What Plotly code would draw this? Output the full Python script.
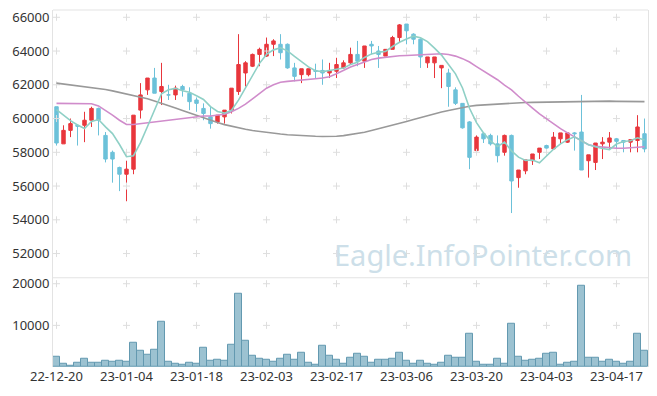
import plotly.graph_objects as go
from plotly.subplots import make_subplots

dates = [
    "22-12-20", "22-12-21", "22-12-22", "22-12-23", "22-12-26", "22-12-27", "22-12-28", "22-12-29",
    "23-01-02", "23-01-03", "23-01-04", "23-01-05", "23-01-06", "23-01-09", "23-01-10", "23-01-11",
    "23-01-12", "23-01-13", "23-01-16", "23-01-17", "23-01-18", "23-01-19", "23-01-20", "23-01-25",
    "23-01-26", "23-01-27", "23-01-30", "23-01-31", "23-02-01", "23-02-02", "23-02-03", "23-02-06",
    "23-02-07", "23-02-08", "23-02-09", "23-02-10", "23-02-13", "23-02-14", "23-02-15", "23-02-16",
    "23-02-17", "23-02-20", "23-02-21", "23-02-22", "23-02-23", "23-02-24", "23-02-27", "23-02-28",
    "23-03-02", "23-03-03", "23-03-06", "23-03-07", "23-03-08", "23-03-09", "23-03-10", "23-03-13",
    "23-03-14", "23-03-15", "23-03-16", "23-03-17", "23-03-20", "23-03-21", "23-03-22", "23-03-23",
    "23-03-24", "23-03-27", "23-03-28", "23-03-29", "23-03-30", "23-03-31", "23-04-03", "23-04-04",
    "23-04-05", "23-04-06", "23-04-07", "23-04-10", "23-04-11", "23-04-12", "23-04-13", "23-04-14",
    "23-04-17", "23-04-18", "23-04-19", "23-04-20", "23-04-21",
]

open_ = [
    60700, 58500, 59300, 59600, 59600, 59900, 60600, 59000, 58000, 57100,
    56700, 57000, 60500, 61700, 62400, 61600, 61400, 61400, 61900, 61500,
    61100, 60600, 60100, 59800, 60100, 60500, 61600, 62700, 63100, 63800,
    63700, 64400, 64400, 64400, 63000, 62600, 62600, 62850, 62850, 62700,
    62800, 63000, 63300, 63800, 63400, 64400, 64000, 63700, 64100, 64800,
    65600, 65000, 64700, 63300, 63300, 63000, 62700, 61700, 60900, 59800,
    58100, 59100, 59000, 58500, 58000, 59000, 56500, 56900, 57500, 58000,
    58400, 58200, 58800, 58600, 59150, 59200, 57500, 57400, 58500, 58600,
    58800, 58700, 58600, 58700, 59100,
]
high = [
    60700, 59600, 60000, 59650, 60400, 60700, 60650, 59200, 58100, 57150,
    57500, 60200, 62100, 62400, 63000, 63300, 62000, 61950, 62000, 61850,
    61250, 60900, 60700, 60200, 60500, 61800, 65000, 63400, 63850, 64200,
    64800, 64700, 65000, 64450, 63300, 62950, 62950, 63250, 63500, 63300,
    63600, 63450, 64200, 64600, 64300, 64600, 64300, 64100, 64900, 65600,
    65600, 65050, 64750, 63650, 63650, 63150, 62950, 61850, 60900, 59850,
    59000, 59200, 59100, 59000, 59050, 59050, 56950, 57550, 57900, 58250,
    58450, 59200, 59150, 59150, 59200, 61400, 57850, 58550, 58900, 59200,
    58850, 58700, 58750, 60200, 60000,
]
low = [
    58400, 58500, 58900, 58400, 58600, 59500, 59000, 57400, 56200, 55700,
    55100, 56700, 60000, 61400, 61500, 60800, 61100, 61100, 61300, 60500,
    60400, 59900, 59400, 59700, 59700, 60300, 61400, 61900, 63050, 63100,
    63650, 63700, 63500, 62950, 62200, 62100, 62500, 62400, 62000, 62400,
    62400, 62950, 63200, 63100, 63000, 63800, 63000, 63700, 64100, 64500,
    64400, 64400, 63000, 63000, 62400, 61800, 60700, 60800, 59400, 57000,
    58100, 58550, 58400, 57400, 57800, 54400, 55900, 56700, 57250, 57600,
    57900, 58150, 58500, 58550, 58100, 56950, 56500, 56950, 57600, 58200,
    58000, 58000, 58000, 58000, 58000,
]
close = [
    58550, 59300, 59700, 59550, 59900, 60600, 59900, 57600, 57600, 56700,
    57000, 60200, 61400, 62400, 61500, 61900, 61400, 61800, 61700, 61000,
    60900, 60300, 59700, 60200, 60500, 61800, 63200, 63300, 63800, 64100,
    64400, 64600, 63900, 63000, 62500, 62950, 62950, 62800, 62700, 62850,
    63200, 63300, 63800, 63400, 64300, 64300, 63800, 64100, 64800, 65550,
    65200, 64700, 63650, 63650, 63650, 63150, 61900, 60900, 59450, 57700,
    58900, 58800, 58500, 57800, 59000, 56300, 56950, 57550, 57900, 58250,
    58250, 58900, 59150, 59150, 59100, 56950, 57850, 58550, 58600, 58850,
    58650, 58600, 58750, 59500, 58200,
]
volume = [
    2400, 720, 240, 960, 1920, 960, 960, 1440, 1280, 1520,
    1280, 5760, 3920, 2880, 4080, 10800, 1200, 720, 560, 960,
    800, 4560, 1520, 1760, 1520, 5280, 17520, 6240, 2640, 1920,
    1760, 1280, 1920, 2880, 1760, 3360, 960, 560, 5040, 2720,
    1760, 800, 2160, 3120, 2400, 960, 1760, 1760, 1920, 3360,
    1520, 720, 1520, 720, 480, 960, 2640, 2160, 2160, 8000,
    1200, 480, 480, 1920, 720, 10320, 2400, 1520, 1760, 1920,
    3120, 3360, 480, 960, 1200, 19440, 2160, 2160, 1280, 1760,
    1200, 720, 1200, 8000, 3920,
]
ma_short = [
    60530, 60180, 59880, 59620, 59410, 59830, 59940, 59510, 59110, 58460,
    57740, 57800, 58570, 59530, 60490, 61470, 61710, 61790, 61650, 61560,
    61350, 61130, 60710, 60420, 60320, 60490, 61090, 61810, 62540, 63270,
    63800, 64070, 64190, 64010, 63680, 63390, 63060, 62830, 62780, 62850,
    62910, 62990, 63200, 63340, 63620, 63830, 63930, 63980, 64270, 64520,
    64710, 64880, 64790, 64560, 64170, 63760, 63200, 62650, 61810, 60610,
    59760, 59150, 58670, 58340, 58610, 58080, 57710, 57520, 57540, 57380,
    57780, 58180, 58500, 58750, 58920, 58670, 58450, 58330, 58220, 58160,
    58490, 58640, 58680, 58860, 58730,
]
ma_mid = [
    60900, 60900, 60900, 60900, 60900, 60880, 60750, 60500, 60200, 59900,
    59650, 59650, 59700, 59750, 59800, 59850, 59900, 59950, 60000, 60050,
    60100, 60150, 60150, 60200, 60250, 60400, 60600, 60850, 61150, 61500,
    61800, 62000, 62150, 62200, 62250, 62280, 62320, 62360, 62400, 62480,
    62650, 62850, 63050, 63200, 63350, 63500, 63580, 63640, 63680, 63720,
    63740, 63760, 63780, 63800, 63830, 63840, 63800, 63700, 63550, 63350,
    63080, 62820, 62580, 62300, 61980, 61700, 61320, 60950, 60620, 60280,
    59980, 59650, 59400, 59150, 58900, 58680, 58450, 58350, 58300, 58260,
    58240, 58240, 58260, 58300, 58330,
]
ma_long = [
    62100, 62050, 62000, 61950, 61900, 61860, 61800, 61720, 61640, 61550,
    61470, 61380, 61280, 61170, 61040, 60910, 60770, 60620, 60470, 60320,
    60180, 60030, 59890, 59760, 59640, 59540, 59450, 59370, 59290, 59230,
    59170, 59120, 59080, 59040, 59010, 58980, 58960, 58950, 58940, 58930,
    58950, 58990, 59050, 59120, 59190, 59290, 59390, 59490, 59600, 59710,
    59820, 59940, 60060, 60180, 60290, 60390, 60480, 60570, 60660, 60730,
    60780, 60810, 60840, 60870, 60900, 60920, 60940, 60950, 60960, 60970,
    60980, 60990, 61000, 61010, 61020, 61030, 61030, 61030, 61030, 61030,
    61020, 61020, 61010, 61010, 61000,
]

x_ticks = ["22-12-20", "23-01-04", "23-01-18", "23-02-03", "23-02-17",
           "23-03-06", "23-03-20", "23-04-03", "23-04-17"]
price_ticks = [52000, 54000, 56000, 58000, 60000, 62000, 64000, 66000]
vol_ticks = [10000, 20000]

UP = "#e8363c"
DOWN = "#6cc1d9"
FONT = "Noto Sans"

fig = make_subplots(rows=2, cols=1, shared_xaxes=True, vertical_spacing=0,
                    row_heights=[0.75, 0.25])

# grid crosses (drawn at tick intersections)
cross = dict(symbol="cross-thin", size=5, line=dict(color="#dedede", width=1))
gx = [d for d in x_ticks for _ in price_ticks]
gy = [p for _ in x_ticks for p in price_ticks]
fig.add_trace(go.Scatter(x=gx, y=gy, mode="markers", hoverinfo="skip", marker=cross),
              row=1, col=1)
gx2 = [d for d in x_ticks for _ in vol_ticks]
gy2 = [v for _ in x_ticks for v in vol_ticks]
fig.add_trace(go.Scatter(x=gx2, y=gy2, mode="markers", hoverinfo="skip", marker=cross),
              row=2, col=1)

fig.add_trace(go.Scatter(x=dates, y=ma_long, mode="lines",
                         line=dict(color="#999999", width=1.6)), row=1, col=1)
fig.add_trace(go.Scatter(x=dates, y=ma_mid, mode="lines",
                         line=dict(color="#d08ccb", width=1.6)), row=1, col=1)
fig.add_trace(go.Scatter(x=dates, y=ma_short, mode="lines",
                         line=dict(color="#8fd0c6", width=1.6)), row=1, col=1)

fig.add_trace(go.Candlestick(
    x=dates, open=open_, high=high, low=low, close=close,
    increasing=dict(line=dict(color=UP, width=1), fillcolor=UP),
    decreasing=dict(line=dict(color=DOWN, width=1), fillcolor=DOWN),
    whiskerwidth=0,
), row=1, col=1)

fig.add_trace(go.Bar(x=dates, y=volume,
                     marker=dict(color="#9cc2d1", line=dict(color="#6399b0", width=1))),
              row=2, col=1)

fig.update_layout(
    width=649, height=388,
    margin=dict(l=45, r=9, t=2, b=29, autoexpand=False),
    paper_bgcolor="white", plot_bgcolor="white",
    showlegend=False, bargap=0.0,
    font=dict(family=FONT, size=13, color="#333333"),
    annotations=[dict(
        text="Eagle.InfoPointer.com", xref="paper", yref="paper",
        x=0.7225, y=0.316, xanchor="center", yanchor="middle", showarrow=False,
        font=dict(family=FONT, size=29, color="#cddfe9"),
    )],
    shapes=[
        dict(type="line", xref="paper", yref="paper", x0=0, x1=1, y0=1, y1=1,
             line=dict(color="#e3e3e3", width=1)),
        dict(type="line", xref="paper", yref="paper", x0=0, x1=1, y0=0.25, y1=0.25,
             line=dict(color="#e3e3e3", width=1)),
    ],
)

fig.update_xaxes(type="category", categoryorder="array", categoryarray=dates,
                 range=[-0.5, len(dates) - 0.5], automargin=False,
                 showgrid=False, zeroline=False, showline=False,
                 rangeslider=dict(visible=False))
fig.update_xaxes(tickmode="array", tickvals=x_ticks, ticktext=x_ticks, tickangle=0,
                 showticklabels=True, ticks="", tickfont=dict(size=13, color="#333333"),
                 ticklabeloverflow="allow", row=2, col=1)
fig.update_xaxes(showticklabels=False, ticks="", row=1, col=1)

fig.update_yaxes(range=[50566, 66432], tickmode="array", tickvals=price_ticks,
                 tickformat="d", showgrid=False, zeroline=False, automargin=False,
                 showline=True, mirror=True, linecolor="#e3e3e3", linewidth=1,
                 ticks="", ticklabeloverflow="allow", row=1, col=1)
fig.update_yaxes(range=[0, 21432], tickmode="array", tickvals=vol_ticks,
                 tickformat="d", showgrid=False, zeroline=False, automargin=False,
                 showline=True, mirror=True, linecolor="#e3e3e3", linewidth=1,
                 ticks="", ticklabeloverflow="allow", row=2, col=1)

fig.write_html("out.html")
